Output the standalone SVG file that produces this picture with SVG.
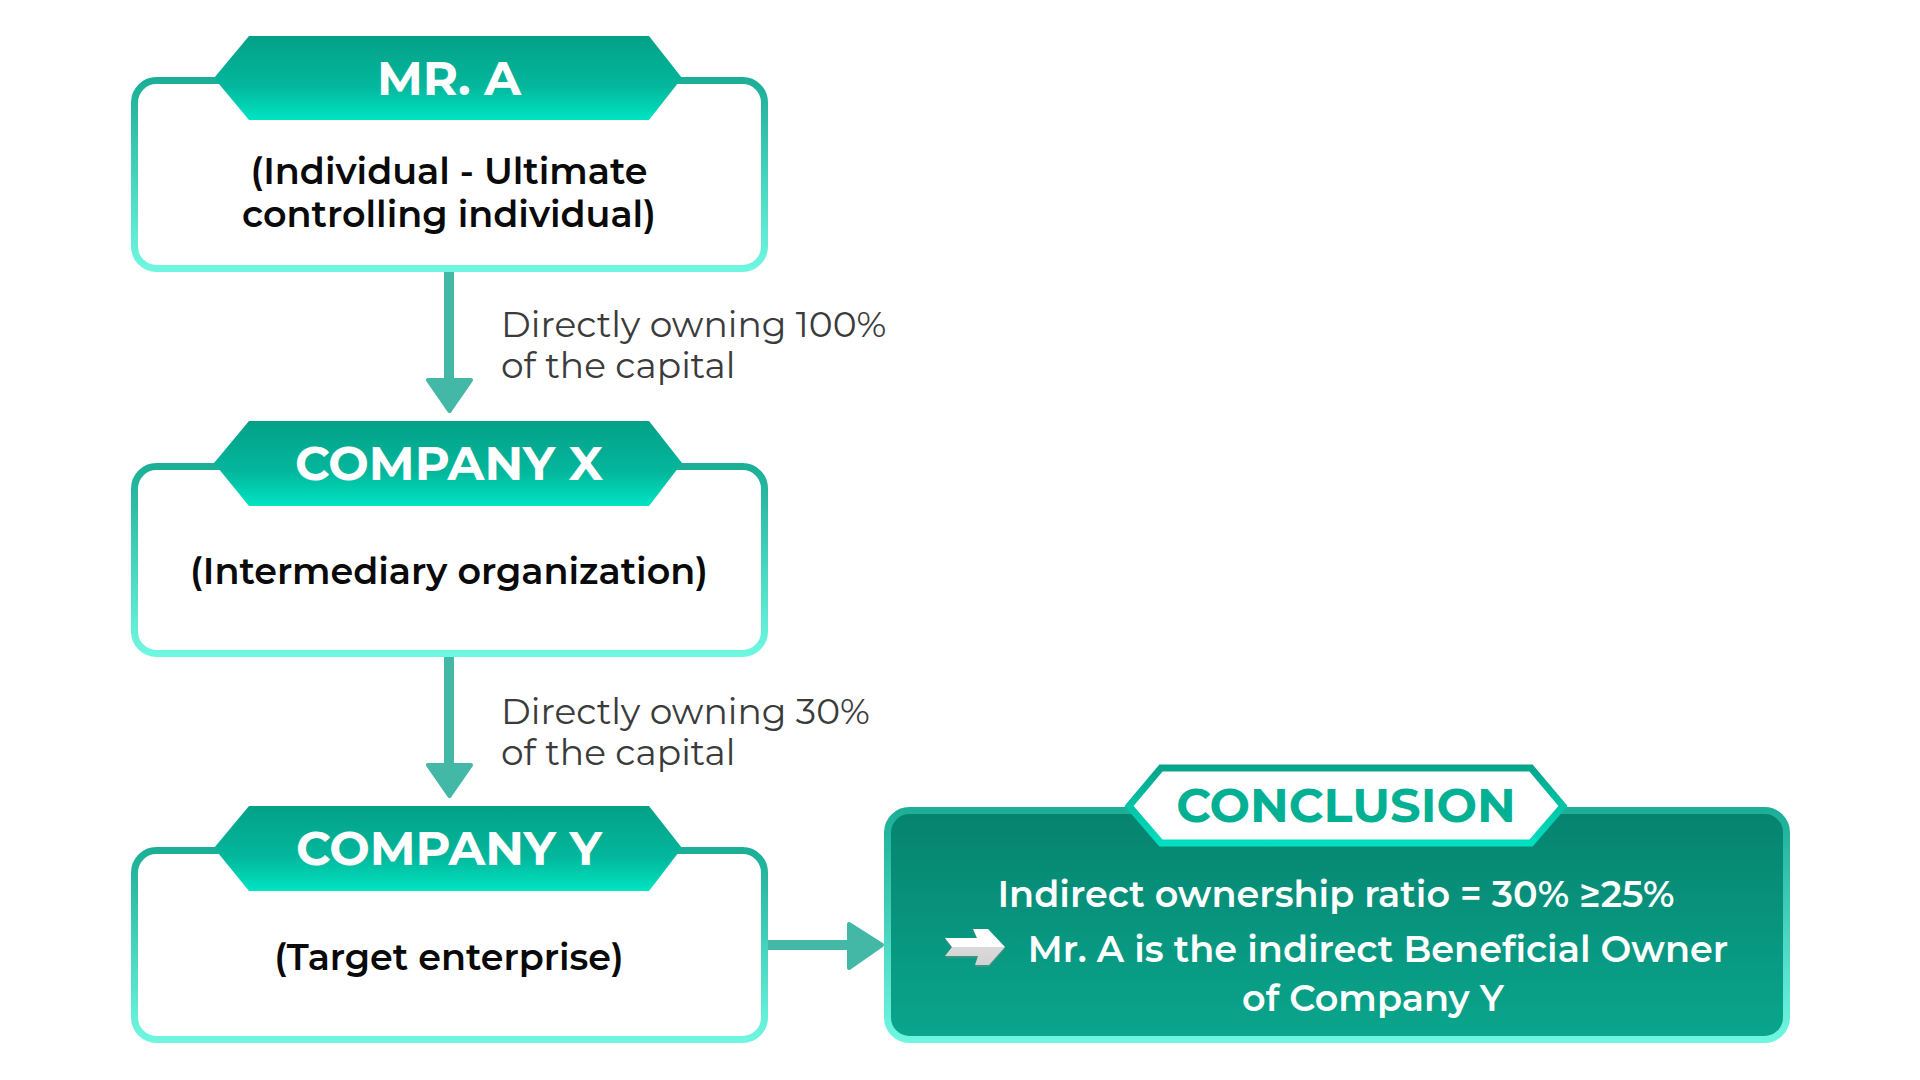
<svg xmlns="http://www.w3.org/2000/svg" width="1920" height="1080" viewBox="0 0 1920 1080">
<defs>
<linearGradient id="hdr" x1="0" y1="0" x2="0" y2="1">
<stop offset="0" stop-color="#03a187"/><stop offset="0.6" stop-color="#03b79c"/><stop offset="1" stop-color="#00e4c3"/>
</linearGradient>
<linearGradient id="bst" x1="0" y1="0" x2="0" y2="1">
<stop offset="0" stop-color="#1cae97"/><stop offset="1" stop-color="#6ff6e1"/>
</linearGradient>
<linearGradient id="cfill" x1="0" y1="0" x2="0" y2="1">
<stop offset="0" stop-color="#06836f"/><stop offset="1" stop-color="#0aa68d"/>
</linearGradient>
<linearGradient id="chst" x1="0" y1="0" x2="0" y2="1">
<stop offset="0" stop-color="#04a58b"/><stop offset="1" stop-color="#00e0c0"/>
</linearGradient>
<linearGradient id="icon" x1="0" y1="0" x2="0" y2="1">
<stop offset="0" stop-color="#ffffff"/><stop offset="0.5" stop-color="#ffffff"/><stop offset="0.5" stop-color="#dadada"/><stop offset="1" stop-color="#d2d2d2"/>
</linearGradient>
<style>
.box{fill:#ffffff;stroke:url(#bst);stroke-width:7}
.hdr{fill:url(#hdr)}
.htxt{font-family:Montserrat,Inter,"Liberation Sans",sans-serif;font-weight:700;font-size:48px;fill:#ffffff;text-anchor:middle}
.btxt{font-family:Montserrat,Inter,"Liberation Sans",sans-serif;font-weight:600;font-size:36.5px;fill:#0a0a0a;text-anchor:middle}
.lbl{font-family:Montserrat,Inter,"Liberation Sans",sans-serif;font-weight:400;font-size:36px;fill:#3b3b3b}
.ctxt{font-family:Montserrat,Inter,"Liberation Sans",sans-serif;font-weight:600;font-size:36.6px;fill:#ffffff;text-anchor:middle}
.arr{fill:#44b8a6;stroke:#44b8a6;stroke-width:4;stroke-linejoin:round}
</style>
</defs>
<rect width="1920" height="1080" fill="#ffffff"/>

<g id="connectors">
<rect x="444" y="271" width="10" height="112" fill="#44b8a6"/>
<polygon class="arr" points="428,380 471,380 449.5,411"/>
<rect x="444" y="656" width="10" height="112" fill="#44b8a6"/>
<polygon class="arr" points="428,765 471,765 449.5,796"/>
<rect x="768" y="940" width="84" height="10" fill="#44b8a6"/>
<polygon class="arr" points="849,924 849,968 882,945"/>
</g>

<g id="label1">
<text class="lbl" x="501" y="337">Directly owning 100%</text>
<text class="lbl" x="501" y="378">of the capital</text>
</g>
<g id="label2">
<text class="lbl" x="501" y="724">Directly owning 30%</text>
<text class="lbl" x="501" y="765">of the capital</text>
</g>

<g id="mr-a">
<rect class="box" x="134.5" y="80.5" width="630" height="188" rx="22"/>
<polygon class="hdr" points="214,78 249,36 649,36 682,78 649,120 249,120"/>
<text class="htxt" x="449" y="95">MR. A</text>
<text class="btxt" x="449" y="184">(Individual - Ultimate</text>
<text class="btxt" x="449" y="227">controlling individual)</text>
</g>

<g id="company-x">
<rect class="box" x="134.5" y="466.5" width="630" height="187" rx="22"/>
<polygon class="hdr" points="214,463 249,421 649,421 682,463 649,506 249,506"/>
<text class="htxt" x="449" y="480">COMPANY X</text>
<text class="btxt" x="449" y="584">(Intermediary organization)</text>
</g>

<g id="company-y">
<rect class="box" x="134.5" y="850.5" width="630" height="189" rx="22"/>
<polygon class="hdr" points="214,848 249,806 649,806 682,848 649,891 249,891"/>
<text class="htxt" x="449" y="865">COMPANY Y</text>
<text class="btxt" x="449" y="970">(Target enterprise)</text>
</g>

<g id="conclusion">
<rect x="887.5" y="810.5" width="899" height="229" rx="22" fill="url(#cfill)" stroke="url(#bst)" stroke-width="7"/>
<polygon points="1129,806 1161,768 1531,768 1563,806 1531,843 1161,843" fill="#ffffff" stroke="url(#chst)" stroke-width="7" stroke-linejoin="miter"/>
<text class="htxt" x="1346" y="822" style="fill:#03b093">CONCLUSION</text>
<text class="ctxt" x="1336" y="907">Indirect ownership ratio = 30% ≥25%</text>
<polygon points="945,940 977,940 973,931 988,931 1005,949 989,967 975,967 978,958 945,958 952,949" fill="#5e8f86" opacity="0.6"/>
<polygon points="945,938 977,938 973,929 988,929 1005,947 989,965 975,965 978,956 945,956 952,947" fill="url(#icon)"/>
<text class="ctxt" x="1378" y="962">Mr. A is the indirect Beneficial Owner</text>
<text class="ctxt" x="1373" y="1011">of Company Y</text>
</g>
</svg>
